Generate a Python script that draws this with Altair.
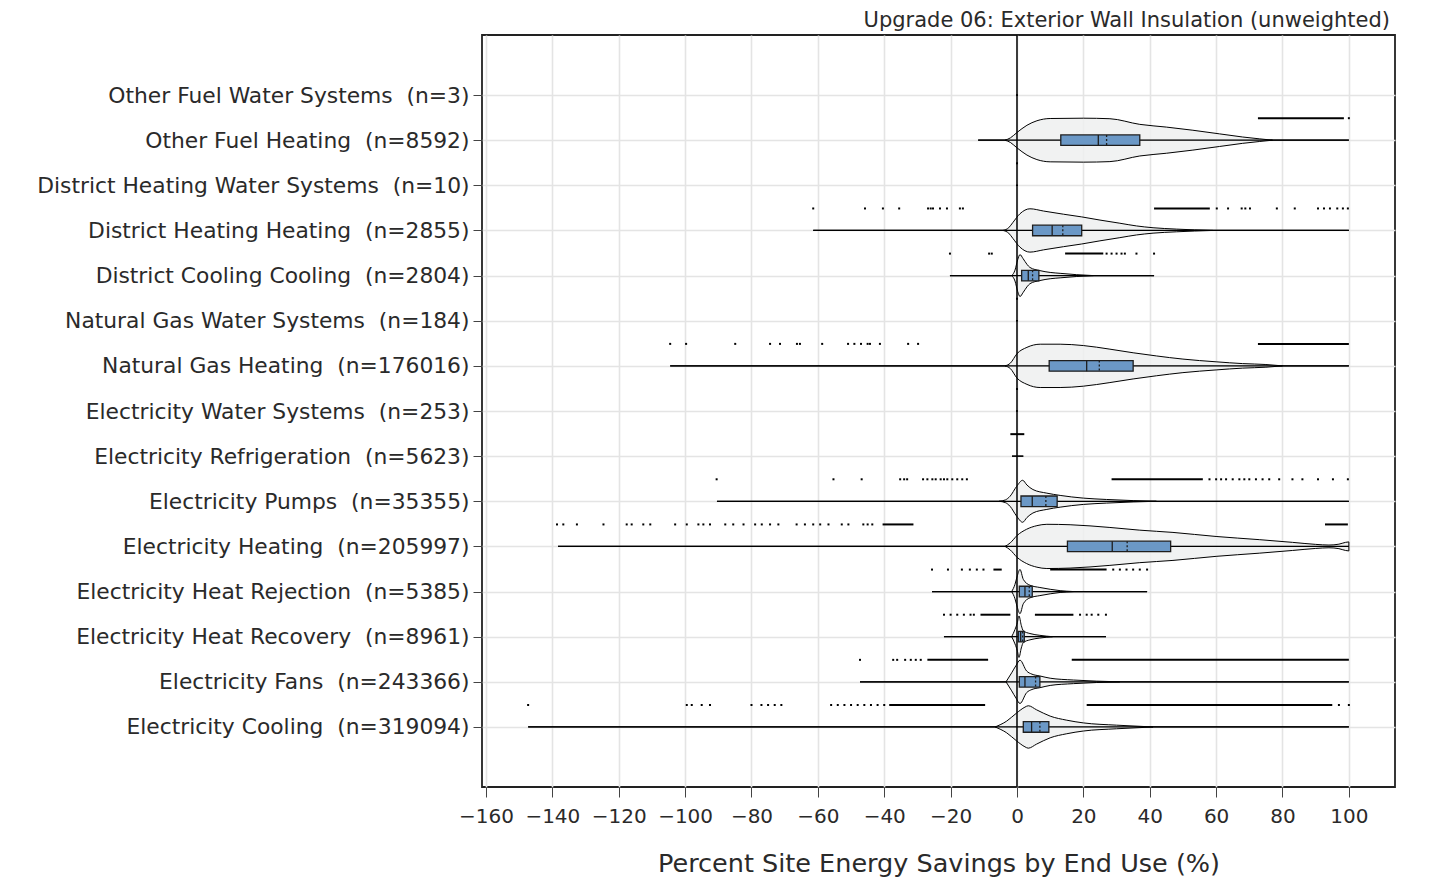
import json
import altair as alt
import pandas as pd

# ---------------- data ----------------
END_USES = [
    "Other Fuel Water Systems", "Other Fuel Heating", "District Heating Water Systems",
    "District Heating Heating", "District Cooling Cooling", "Natural Gas Water Systems",
    "Natural Gas Heating", "Electricity Water Systems", "Electricity Refrigeration",
    "Electricity Pumps", "Electricity Heating", "Electricity Heat Rejection",
    "Electricity Heat Recovery", "Electricity Fans", "Electricity Cooling",
]
COUNTS = [3, 8592, 10, 2855, 2804, 184, 176016, 253, 5623, 35355, 205997, 5385, 8961, 243366, 319094]

# whisker (min, max) per end use
WHISKER_LO = [-0.3, -11.7, -0.3, -61.4, -20.2, -0.3, -104.5, -0.3, -1.5, -90.4, -138.3, -25.6, -22.0, -47.3, -147.3]
WHISKER_HI = [0.3, 100, 0.3, 100, 41.3, 0.3, 100, 0.3, 1.9, 100, 100, 39.2, 26.8, 100, 100]

# box statistics (end-use index, q1, median, mean, q3)
BOX_IDX = [1, 3, 4, 6, 9, 10, 11, 12, 13, 14]
BOX_Q1 = [13.2, 4.7, 1.4, 9.7, 1.2, 15.2, 0.7, 0.4, 0.7, 1.9]
BOX_MED = [24.5, 10.6, 3.4, 21.0, 4.6, 28.7, 2.4, 1.1, 2.4, 4.4]
BOX_MEAN = [27.0, 13.8, 4.7, 24.8, 8.7, 33.2, 3.7, 1.7, 5.6, 6.9]
BOX_Q3 = [37.0, 19.5, 6.6, 35.0, 12.1, 46.3, 4.6, 2.2, 6.9, 9.6]

# violin profiles: (value, half width in rows)
VIOLIN_OTHER_FUEL_HEATING = [(-3.6, 0), (-2, 0.05), (0, 0.17), (3, 0.33), (6, 0.43), (10, 0.48), (20, 0.487),
                             (28, 0.475), (37, 0.35), (45, 0.29), (53, 0.22), (61, 0.14), (68, 0.07), (73, 0.03), (77, 0)]
VIOLIN_DISTRICT_HEATING = [(-4.2, 0), (-2.5, 0.06), (-1.2, 0.18), (0.9, 0.37), (3.9, 0.48), (8, 0.43), (14, 0.36),
                           (19.5, 0.30), (25, 0.23), (31, 0.16), (36, 0.10), (41, 0.06), (48, 0.03), (59, 0)]
VIOLIN_DISTRICT_COOLING = [(-1.6, 0), (-0.6, 0.12), (0.2, 0.35), (0.9, 0.465), (1.8, 0.38), (3, 0.25), (3.9, 0.18),
                           (6.9, 0.11), (10, 0.07), (13, 0.05), (18, 0.02), (23, 0)]
VIOLIN_GAS_HEATING = [(-3.6, 0), (-2, 0.06), (0, 0.27), (3, 0.41), (7, 0.48), (13, 0.48), (20, 0.45), (28, 0.37),
                      (35, 0.29), (42, 0.22), (50, 0.15), (60, 0.09), (68, 0.05), (75, 0.03), (80, 0)]
VIOLIN_PUMPS = [(-5.4, 0), (-3.5, 0.03), (-2.1, 0.11), (-0.1, 0.33), (1.7, 0.465), (3, 0.36), (4.8, 0.26), (9, 0.18),
                (13, 0.13), (20, 0.07), (27, 0.04), (35, 0.015), (42, 0)]
VIOLIN_ELEC_HEATING = [(-3.6, 0), (-2, 0.08), (0, 0.24), (2.9, 0.38), (6, 0.46), (9, 0.49), (16, 0.48), (28, 0.42),
                       (37, 0.36), (47, 0.31), (60, 0.22), (73, 0.15), (83, 0.09), (90, 0.045), (94, 0.03), (97, 0.05),
                       (99, 0.09), (100, 0.10)]
VIOLIN_HEAT_REJECTION = [(-1.6, 0), (-0.6, 0.16), (0.1, 0.35), (0.9, 0.49), (1.9, 0.27), (3.9, 0.14), (6.9, 0.09),
                         (10, 0.05), (13, 0.02), (17, 0)]
VIOLIN_HEAT_RECOVERY = [(-1.6, 0), (-0.6, 0.16), (0.1, 0.31), (0.6, 0.46), (1.3, 0.25), (1.9, 0.13), (3.9, 0.07),
                        (6.9, 0.03), (10.7, 0)]
VIOLIN_FANS = [(-3.3, 0), (-1.6, 0.2), (-0.3, 0.36), (0.9, 0.48), (2.9, 0.24), (4.5, 0.17), (6.9, 0.13), (10, 0.08),
               (17, 0.04), (24, 0.015), (31, 0)]
VIOLIN_COOLING = [(-6.6, 0), (-3.1, 0.13), (-0.1, 0.31), (2.4, 0.44), (3.4, 0.47), (5.9, 0.38), (10, 0.24),
                  (15, 0.15), (20, 0.09), (30, 0.04), (41, 0)]
VIOLINS = {1: VIOLIN_OTHER_FUEL_HEATING, 3: VIOLIN_DISTRICT_HEATING, 4: VIOLIN_DISTRICT_COOLING,
           6: VIOLIN_GAS_HEATING, 9: VIOLIN_PUMPS, 10: VIOLIN_ELEC_HEATING, 11: VIOLIN_HEAT_REJECTION,
           12: VIOLIN_HEAT_RECOVERY, 13: VIOLIN_FANS, 14: VIOLIN_COOLING}

# dense outlier runs: (end-use index, from, to)
OUTLIER_RUNS = [(1, 72.6, 98.5), (3, 41.3, 58.1), (4, 14.5, 26.0), (6, 72.6, 100), (8, -2.0, 2.2),
                (9, 28.5, 56.0), (10, -40.5, -31.2), (10, 92.8, 99.7), (11, -7.1, -4.6), (11, 10.0, 27.0),
                (12, -11.0, -2.0), (12, 5.4, 17.0), (13, -27.0, -8.7), (13, 16.5, 100),
                (14, -38.5, -9.6), (14, 21.0, 95.0)]

# single outlier points per end use
OUTLIERS_OTHER_FUEL_HEATING = [100]
OUTLIERS_DH_WATER = [0]
OUTLIERS_DH_HEATING = [-61.4, -45.8, -40.4, -35.5, -26.8, -26.0, -25.3, -23.2, -21.1, -17.2, -16.3,
                       60.2, 63.6, 67.7, 68.8, 70.2, 78.3, 83.7, 90.7, 92.5, 94.3, 96.5, 98.2, 99.7]
OUTLIERS_DC_COOLING = [-20.2, -8.4, -7.6, 27.0, 28.5, 30.0, 31.5, 32.5, 36.0, 41.3]
OUTLIERS_GAS_WATER = [0]
OUTLIERS_GAS_HEATING = [-104.5, -99.7, -84.9, -74.4, -71.4, -66.3, -65.4, -58.7, -50.9, -49.0, -47.0, -45.0,
                        -44.3, -41.3, -32.8, -29.8]
OUTLIERS_ELEC_WATER = [0]
OUTLIERS_PUMPS = [-90.5, -55.3, -46.8, -35.2, -34.0, -33.1, -28.3, -27.0, -25.5, -24.5, -23.0, -22.0, -21.0,
                  -19.5, -18.0, -16.5, -15.1, 58, 60, 61.5, 63, 65, 67, 68.5, 70, 72, 74, 76, 79,
                  83, 86, 90.7, 95.2, 99.7]
OUTLIERS_ELEC_HEATING = [-138.6, -136.7, -132.6, -124.6, -117.6, -116.1, -112.6, -110.5, -103.0, -99.5, -96.0,
                         -94.5, -92.5, -87.9, -85.5, -82.4, -78.9, -76.9, -74.4, -71.9, -66.4, -63.9, -61.4,
                         -59.3, -56.8, -52.8, -50.8, -46.3, -45.0, -43.6]
OUTLIERS_HEAT_REJECTION = [-25.6, -20.8, -16.6, -14.2, -12.1, -10.1, 29, 31, 33, 35, 37, 39.2]
OUTLIERS_HEAT_RECOVERY = [-22.0, -20.0, -18.0, -16.0, -14.0, -13.0, 19.0, 21.0, 22.5, 24.5, 26.8]
OUTLIERS_FANS = [-47.3, -37.3, -36.1, -33.7, -32.0, -30.5, -29.0]
OUTLIERS_COOLING = [-147.3, -99.5, -98.0, -95.0, -92.5, -80.0, -77.0, -75.0, -73.0, -71.0,
                    -56, -54, -52, -50, -48, -46, -44, -42, -40, 97, 100]
OUTLIERS = {1: OUTLIERS_OTHER_FUEL_HEATING, 2: OUTLIERS_DH_WATER, 3: OUTLIERS_DH_HEATING, 4: OUTLIERS_DC_COOLING,
            5: OUTLIERS_GAS_WATER, 6: OUTLIERS_GAS_HEATING, 7: OUTLIERS_ELEC_WATER, 9: OUTLIERS_PUMPS,
            10: OUTLIERS_ELEC_HEATING, 11: OUTLIERS_HEAT_REJECTION, 12: OUTLIERS_HEAT_RECOVERY,
            13: OUTLIERS_FANS, 14: OUTLIERS_COOLING}

TITLE = "Upgrade 06: Exterior Wall Insulation (unweighted)"
X_TITLE = "Percent Site Energy Savings by End Use (%)"
X_TICKS = list(range(-160, 101, 20))

# ---------------- tables ----------------
labels = [f"{n}\u00a0\u00a0(n={c})" for n, c in zip(END_USES, COUNTS)]
n_cat = len(END_USES)

whisker_df = pd.DataFrame({"cat": list(range(n_cat)), "lo": WHISKER_LO, "hi": WHISKER_HI})
box_df = pd.DataFrame({"cat": BOX_IDX, "q1": BOX_Q1, "med": BOX_MED, "mean": BOX_MEAN, "q3": BOX_Q3})
vrows = []
for cat, prof in VIOLINS.items():
    for v, hw in prof:
        vrows.append({"cat": cat, "x": v, "lo": cat - hw, "hi": cat + hw})
violin_df = pd.DataFrame(vrows)
runs_df = pd.DataFrame(OUTLIER_RUNS, columns=["cat", "a", "b"])
dots_df = pd.DataFrame([{"cat": c, "v": v} for c, vals in OUTLIERS.items() for v in vals])
zero_df = pd.DataFrame({"v": [0]})

FONT = "DejaVu Sans"
TXT = "#2a2a2a"
xs = alt.Scale(domain=[-161.2, 113.9], nice=False, zero=False)
ys = alt.Scale(domain=[-1.33, 15.33], nice=False, zero=False, reverse=True)
OFF = 0.487   # outlier row offset (rows)
BH = 0.117    # half box height (rows)

x_axis = alt.Axis(values=X_TICKS, title=X_TITLE, tickSize=10, tickColor="#444", labelFontSize=20,
                  labelFont=FONT, labelColor=TXT, labelPadding=9, titleFont=FONT, titleFontSize=25.5,
                  titleFontWeight="normal", titleColor=TXT, titlePadding=25, domain=False,
                  grid=True, gridColor="#e4e4e4", gridWidth=1.6, labelFlush=False)
y_axis = alt.Axis(values=list(range(n_cat)), labelExpr=json.dumps(labels, ensure_ascii=False) + "[datum.value]",
                  title=None, tickSize=9, tickColor="#444", labelFontSize=21.8, labelFont=FONT,
                  labelColor=TXT, labelPadding=4, domain=False, grid=True, gridColor="#e4e4e4",
                  gridWidth=1.6, labelLimit=700)


def X(f):
    return alt.X(f, type="quantitative", scale=xs, axis=x_axis)


def Y(f):
    return alt.Y(f, type="quantitative", scale=ys, axis=y_axis)


whiskers = alt.Chart(whisker_df).mark_rule(color="black", strokeWidth=1.2).encode(
    x=X("lo"), x2="hi", y=Y("cat"))

zero = alt.Chart(zero_df).mark_rule(color="black", strokeWidth=1.5).encode(x=X("v"))

violins = alt.Chart(violin_df).mark_area(
    orient="vertical", interpolate="monotone", fill="#eef0f0", fillOpacity=0.85,
    stroke="black", strokeWidth=1).encode(
    x=X("x"), y=Y("lo"), y2="hi", detail="cat:N")

whiskers_top = alt.Chart(whisker_df).mark_rule(color="black", strokeWidth=1.2).encode(
    x=X("lo"), x2="hi", y=Y("cat"))

runs = alt.Chart(runs_df).transform_calculate(yo=f"datum.cat - {OFF}").mark_rule(
    color="black", strokeWidth=2).encode(x=X("a"), x2="b", y=Y("yo"))

dots = alt.Chart(dots_df).transform_calculate(yo=f"datum.cat - {OFF}").mark_square(
    color="black", size=4, opacity=1).encode(x=X("v"), y=Y("yo"))

box_base = alt.Chart(box_df).transform_calculate(b0=f"datum.cat - {BH}", b1=f"datum.cat + {BH}")
boxes = box_base.mark_rect(fill="#6b98c6", stroke="#1e1e1e", strokeWidth=1.3).encode(
    x=X("q1"), x2="q3", y=Y("b0"), y2="b1")
medians = box_base.mark_rule(color="#1e1e1e", strokeWidth=1.3).encode(
    x=X("med"), y=Y("b0"), y2="b1")
means = box_base.mark_rule(color="#1e1e1e", strokeWidth=1.3, strokeDash=[2, 2]).encode(
    x=X("mean"), y=Y("b0"), y2="b1")

chart = alt.layer(whiskers, violins, zero, whiskers_top, runs, dots, boxes, medians, means).properties(
    width=913, height=752, background="white",
    title=alt.TitleParams(TITLE, anchor="end", font=FONT, fontSize=21, fontWeight="normal",
                          color=TXT, offset=3, dx=-5),
    autosize=alt.AutoSizeParams(type="none"),
    padding={"left": 474, "top": 27, "right": 20, "bottom": 100},
).configure_view(stroke="#222", strokeWidth=1.8)

chart.save("out.html", embed_options={"renderer": "svg", "actions": False})
